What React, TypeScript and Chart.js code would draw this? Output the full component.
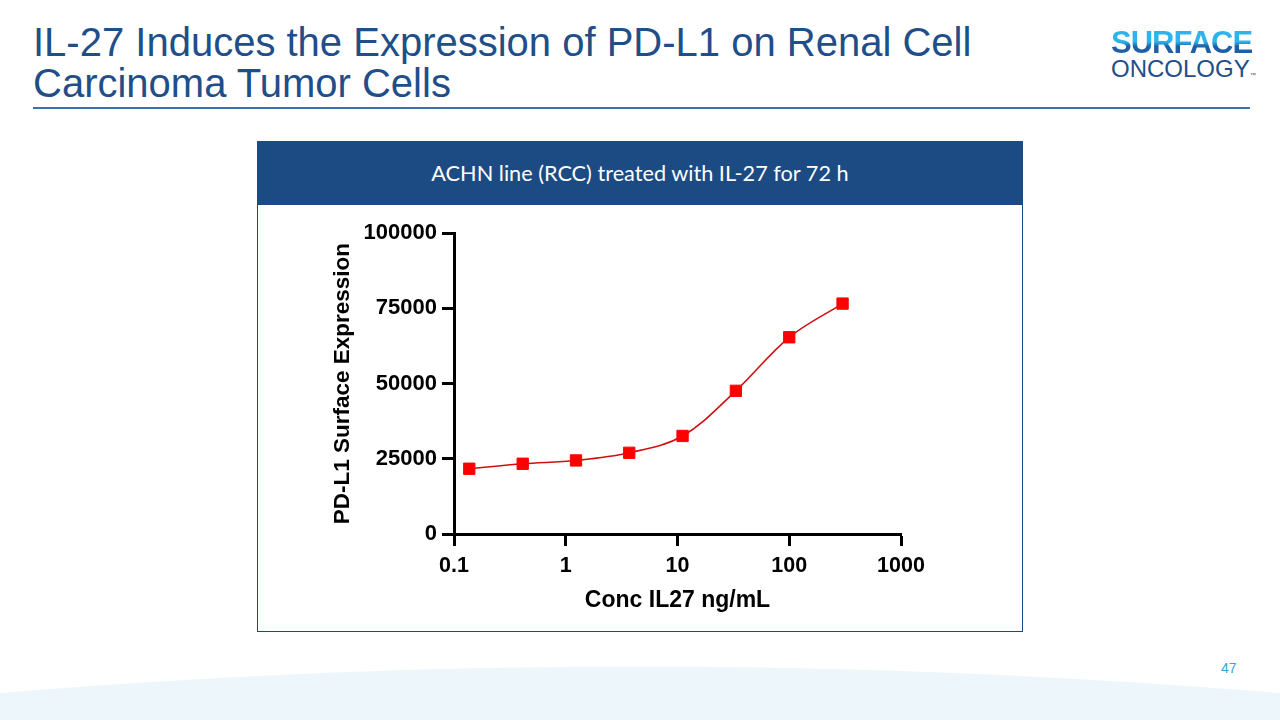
import React, { useEffect, useRef } from 'react';
import { Chart, registerables } from 'chart.js';

Chart.register(...registerables);

// ---- Data ----
const concentrations = [0.137, 0.412, 1.235, 3.7, 11.1, 33.3, 100, 300];
const expression = [21700, 23350, 24450, 27000, 32600, 47600, 65400, 76600];
const xTickValues = [0.1, 1, 10, 100, 1000];
const yTickValues = [0, 25000, 50000, 75000, 100000];

const titleLines = ['IL-27 Induces the Expression of PD-L1 on Renal Cell', 'Carcinoma Tumor Cells'];
const panelHeader = 'ACHN line (RCC) treated with IL-27 for 72 h';
const xAxisTitle = 'Conc IL27 ng/mL';
const yAxisTitle = 'PD-L1 Surface Expression';
const pageNumber = '47';

const ChartPanel: React.FC = () => {
  const canvasRef = useRef<HTMLCanvasElement | null>(null);

  useEffect(() => {
    const canvas = canvasRef.current;
    if (!canvas) return;
    const points = concentrations.map((c, i) => ({ x: c, y: expression[i] }));
    const chart = new Chart(canvas, {
      type: 'line',
      data: {
        datasets: [
          {
            label: 'PD-L1',
            data: points,
            borderColor: '#d01010',
            borderWidth: 1.6,
            tension: 0.35,
            pointStyle: 'rect',
            pointRadius: 8,
            pointBackgroundColor: '#ff0000',
            pointBorderColor: '#ff0000',
            pointBorderWidth: 1,
            fill: false,
          },
        ],
      },
      options: {
        responsive: false,
        maintainAspectRatio: false,
        animation: false,
        devicePixelRatio: 1,
        layout: { padding: { top: 15, right: 39, left: 0, bottom: 0 } },
        plugins: {
          legend: { display: false },
          tooltip: { enabled: false },
        },
        scales: {
          x: {
            type: 'logarithmic',
            min: 0.1,
            max: 1000,
            afterBuildTicks: (scale: any) => {
              scale.ticks = xTickValues.map((v) => ({ value: v }));
            },
            afterFit: (scale: any) => {
              scale.height = 91;
            },
            border: { display: true, width: 3, color: '#000000' },
            grid: {
              display: true,
              drawOnChartArea: false,
              drawTicks: true,
              tickLength: 12,
              tickWidth: 3,
              tickColor: '#000000',
            },
            ticks: {
              autoSkip: false,
              maxRotation: 0,
              padding: 7,
              color: '#000000',
              font: { family: '"Liberation Sans", Arial, sans-serif', size: 21.5, weight: 'bold' },
              callback: (v: any) => String(v),
            },
            title: {
              display: true,
              text: xAxisTitle,
              color: '#000000',
              font: { family: '"Liberation Sans", Arial, sans-serif', size: 23, weight: 'bold' },
              padding: { top: 0, bottom: 11 },
            },
          },
          y: {
            type: 'linear',
            min: 0,
            max: 100000,
            afterBuildTicks: (scale: any) => {
              scale.ticks = yTickValues.map((v) => ({ value: v }));
            },
            afterFit: (scale: any) => {
              scale.width = 154;
            },
            border: { display: true, width: 3, color: '#000000' },
            grid: {
              display: true,
              drawOnChartArea: false,
              drawTicks: true,
              tickLength: 12,
              tickWidth: 3,
              tickColor: '#000000',
            },
            ticks: {
              autoSkip: false,
              padding: 5,
              color: '#000000',
              font: { family: '"Liberation Sans", Arial, sans-serif', size: 22, weight: 'bold' },
              callback: (v: any) => String(v),
            },
            title: {
              display: true,
              text: yAxisTitle,
              color: '#000000',
              font: { family: '"Liberation Sans", Arial, sans-serif', size: 22.5, weight: 'bold' },
              padding: { top: 29, bottom: 0 },
            },
          },
        },
      },
    });
    return () => chart.destroy();
  }, []);

  return (
    <canvas
      ref={canvasRef}
      width={640}
      height={410}
      style={{ position: 'absolute', left: 300, top: 215, width: 640, height: 410 }}
    />
  );
};

const App: React.FC = () => {
  return (
    <div
      style={{
        position: 'absolute',
        left: 0,
        top: 0,
        width: 1280,
        height: 720,
        overflow: 'hidden',
        background: '#ffffff',
        fontFamily: '"Liberation Sans", Arial, sans-serif',
      }}
    >
      {/* Footer wave */}
      <svg width={1280} height={720} style={{ position: 'absolute', left: 0, top: 0 }}>
        <path d="M0 693 Q640 640 1280 693 L1280 720 L0 720 Z" fill="#edf7fb" />
      </svg>

      {/* Title */}
      <div
        style={{
          position: 'absolute',
          left: 33,
          top: 22,
          fontSize: 40,
          lineHeight: '41px',
          color: '#1f4e89',
          whiteSpace: 'nowrap',
        }}
      >
        {titleLines.map((l) => (
          <div key={l}>{l}</div>
        ))}
      </div>

      {/* Logo */}
      <div
        style={{
          position: 'absolute',
          left: 1111,
          top: 26,
          fontSize: 31,
          fontWeight: 'bold',
          letterSpacing: -1,
          lineHeight: '33px',
          background: 'linear-gradient(to bottom, #2db4ea 0%, #2db4ea 48%, #1e5fa6 62%, #1e5fa6 100%)',
          WebkitBackgroundClip: 'text',
          backgroundClip: 'text',
          color: 'transparent',
          whiteSpace: 'nowrap',
        }}
      >
        SURFACE
      </div>
      <div
        style={{
          position: 'absolute',
          left: 1111,
          top: 56,
          fontSize: 24,
          lineHeight: '26px',
          color: '#1f4e89',
          whiteSpace: 'nowrap',
        }}
      >
        ONCOLOGY<span style={{ fontSize: 6, verticalAlign: 'baseline' }}>™</span>
      </div>

      {/* Rule */}
      <div style={{ position: 'absolute', left: 33, top: 107, width: 1217, height: 2, background: '#3b73a8' }} />

      {/* Panel */}
      <div
        style={{
          position: 'absolute',
          left: 257,
          top: 141,
          width: 764,
          height: 489,
          border: '1px solid #1c4a83',
          background: '#ffffff',
        }}
      >
        <div
          style={{
            height: 63,
            background: '#1c4a83',
            color: '#ffffff',
            fontFamily: 'Lato, "Open Sans", sans-serif',
            fontSize: 21.7,
            lineHeight: '63px',
            textAlign: 'center',
          }}
        >
          {panelHeader}
        </div>
      </div>

      <ChartPanel />

      {/* Page number */}
      <div
        style={{
          position: 'absolute',
          left: 1221,
          top: 660,
          fontSize: 14,
          lineHeight: '16px',
          color: '#2fa6de',
        }}
      >
        {pageNumber}
      </div>
    </div>
  );
};

export default App;
